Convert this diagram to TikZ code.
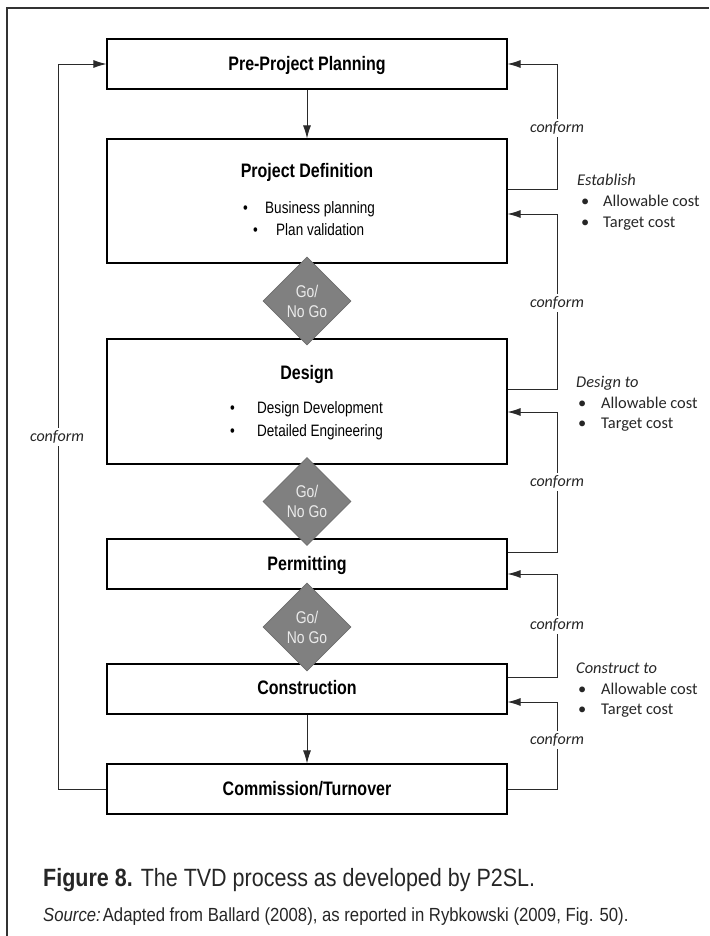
\documentclass[tikz,border=0pt]{standalone}
\usepackage{fontspec}
\setmainfont{Liberation Sans}
\newfontfamily\nar{Liberation Sans}[FakeStretch=0.82]
\newfontfamily\capfont{Liberation Sans}[FakeStretch=0.86]
\newfontfamily\srcfont{Liberation Sans}[FakeStretch=0.88]
\newfontfamily\calfont{Carlito}
\usetikzlibrary{shapes.geometric,arrows.meta}
\definecolor{diafill}{HTML}{808080}
\definecolor{diaedge}{HTML}{6E6E6E}
\definecolor{conncol}{HTML}{2A2A2A}
\tikzset{
  box/.style={draw=black, line width=1.1pt, rectangle, minimum width=400pt, inner sep=0pt},
  ttl/.style={font=\nar\bfseries\fontsize{19.5}{22}\selectfont, inner sep=0pt, anchor=base},
  itm/.style={font=\nar\fontsize{16.5}{19}\selectfont, inner sep=0pt, anchor=base west},
  dia/.style={diamond, aspect=1, fill=diafill, draw=diaedge, line width=0.6pt, minimum width=88pt, minimum height=88pt, inner sep=0pt},
  diatext/.style={font=\nar\fontsize{17}{20}\selectfont, text=white!92!black, align=center, inner sep=0pt},
  conn/.style={draw=conncol, line width=0.9pt},
  arr/.style={-{Latex[length=13pt,width=8pt]}},
  conf/.style={font=\calfont\itshape\fontsize{16}{18}\selectfont, fill=white, inner sep=3pt, text=black!85},
  rt/.style={font=\calfont\fontsize{16.4}{18}\selectfont, inner sep=0pt, anchor=base west, text=black!85}
}
\begin{document}
\begin{tikzpicture}[x=1pt,y=-1pt]
\useasboundingbox (0,0) rectangle (709,936);
\draw[line width=1.1pt, draw=black!80] (7,936) -- (7,8) -- (709,8);

% boxes
\node[box, minimum height=50pt]  (pre) at (307,64) {};
\node[box, minimum height=124pt] (def) at (307,201) {};
\node[box, minimum height=125pt] (des) at (307,401.5) {};
\node[box, minimum height=50pt]  (per) at (307,564) {};
\node[box, minimum height=50pt]  (con) at (307,689) {};
\node[box, minimum height=50pt]  (com) at (307,789) {};

% titles
\node[ttl] (tpre) at (307,71) {Pre-Project Planning};
\node[ttl] (tdef) at (307,178) {Project Definition};
\node[ttl] (tdes) at (307,379) {Design};
\node[ttl] (tper) at (307,570) {Permitting};
\node[ttl] (tcon) at (307,694) {Construction};
\node[ttl] (tcom) at (307,795) {Commission/Turnover};

% items
\node[itm] (bd1) at (243,213) {•};
\node[itm] (id1) at (265,213) {Business planning};
\node[itm] (bd2) at (253,235) {•};
\node[itm] (id2) at (276,235) {Plan validation};
\node[itm] (bs1) at (230,413) {•};
\node[itm] (is1) at (257,413) {Design Development};
\node[itm] (bs2) at (230,436) {•};
\node[itm] (is2) at (257,436) {Detailed Engineering};

% straight arrows
\draw[conn, arr] (pre.south) -- (def.north);
\draw[conn, arr] (con.south) -- (com.north);

% left loop
\coordinate (la) at (58,789);
\coordinate (lb) at (58,64);
\draw[conn, arr] (com.west) -- (la) -- (lb) -- (pre.west);
\node[conf] (cl) at (57,437) {conform};

% right loops
\coordinate (r1a) at (557,189);
\coordinate (r1b) at (557,64);
\draw[conn, arr] (def.east |- r1a) -- (r1a) -- (r1b) -- (pre.east);
\coordinate (r2a) at (557,389);
\coordinate (r2b) at (557,214);
\draw[conn, arr] (des.east |- r2a) -- (r2a) -- (r2b) -- (def.east |- r2b);
\coordinate (r3a) at (557,552);
\coordinate (r3b) at (557,412);
\draw[conn, arr] (per.east |- r3a) -- (r3a) -- (r3b) -- (des.east |- r3b);
\coordinate (r4a) at (557,677);
\coordinate (r4b) at (557,574);
\draw[conn, arr] (con.east |- r4a) -- (r4a) -- (r4b) -- (per.east |- r4b);
\coordinate (r5a) at (557,789);
\coordinate (r5b) at (557,702);
\draw[conn, arr] (com.east) -- (r5a) -- (r5b) -- (con.east |- r5b);

\node[conf] (c1) at (557,128) {conform};
\node[conf] (c2) at (557,303) {conform};
\node[conf] (c3) at (557,482) {conform};
\node[conf] (c4) at (557,625) {conform};
\node[conf] (c5) at (557,740) {conform};

% diamonds
\node[dia] (d1) at (307,301) {};
\node[diatext] (g1) at (d1) {Go/\\No Go};
\node[dia] (d2) at (307,501.5) {};
\node[diatext] (g2) at (d2) {Go/\\No Go};
\node[dia] (d3) at (307,627) {};
\node[diatext] (g3) at (d3) {Go/\\No Go};

% right side notes
\node[rt] (e0) at (577,185.5) {\itshape Establish};
\node[rt] (e1b) at (581,206.5) {•};
\node[rt] (e1) at (603,206.5) {Allowable cost};
\node[rt] (e2b) at (581,227.5) {•};
\node[rt] (e2) at (603,227.5) {Target cost};

\node[rt] (s0) at (576,387.5) {\itshape Design to};
\node[rt] (s1b) at (578,408.5) {•};
\node[rt] (s1) at (601,408.5) {Allowable cost};
\node[rt] (s2b) at (578,428.5) {•};
\node[rt] (s2) at (601,428.5) {Target cost};

\node[rt] (k0) at (576,673.5) {\itshape Construct to};
\node[rt] (k1b) at (578,694.5) {•};
\node[rt] (k1) at (601,694.5) {Allowable cost};
\node[rt] (k2b) at (578,714.5) {•};
\node[rt] (k2) at (601,714.5) {Target cost};

% caption
\node[font=\capfont\fontsize{25}{27}\selectfont, inner sep=0pt, anchor=base west, text=black!85] (cap) at (43,886) {\textbf{Figure 8.} The TVD process as developed by P2SL.};
\node[font=\srcfont\fontsize{19}{21}\selectfont, inner sep=0pt, anchor=base west, text=black!85] (src) at (43,921) {\textit{Source:}\kern2pt Adapted from Ballard (2008), as reported in Rybkowski (2009, Fig. 50).};
\end{tikzpicture}
\end{document}
